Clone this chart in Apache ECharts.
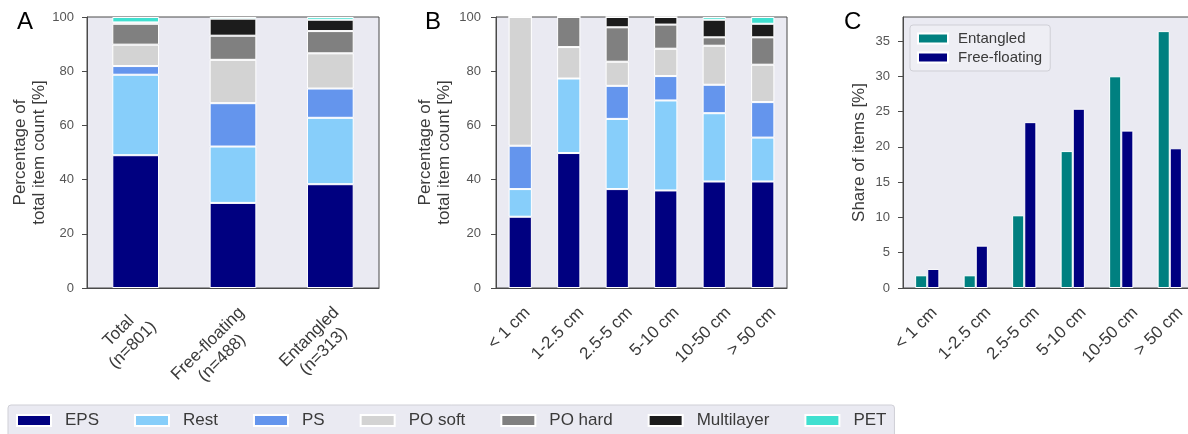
<!DOCTYPE html>
<html>
<head>
<meta charset="utf-8">
<script src="https://cdn.jsdelivr.net/npm/echarts@6/dist/echarts.min.js"></script>
<style>
html,body{margin:0;padding:0;background:#fff;}
#c{width:1188px;height:434px;}
</style>
</head>
<body>
<div id="c"></div>
<script>
// ---------- data ----------
const materials = ['EPS', 'Rest', 'PS', 'PO soft', 'PO hard', 'Multilayer', 'PET'];
const materialColors = ['#000080', '#87CEFA', '#6495ED', '#D3D3D3', '#808080', '#1C1C1C', '#40E0D0'];

const groupCats = ['Total\n(n=801)', 'Free-floating\n(n=488)', 'Entangled\n(n=313)'];
// percentages per material for [Total, Free-floating, Entangled]
const groupEPS        = [49.0, 31.4, 38.3];
const groupRest       = [29.7, 20.8, 24.5];
const groupPS         = [3.2, 16.0, 10.8];
const groupPOsoft     = [7.9, 16.0, 13.0];
const groupPOhard     = [7.7, 8.9, 8.2];
const groupMultilayer = [0.5, 6.3, 4.2];
const groupPET        = [2.0, 0.6, 1.0];

const sizeCats = ['< 1 cm', '1-2.5 cm', '2.5-5 cm', '5-10 cm', '10-50 cm', '> 50 cm'];
const sizeEPS        = [26.3, 49.8, 36.5, 36.0, 39.3, 39.3];
const sizeRest       = [10.2, 27.5, 25.9, 33.2, 25.2, 16.2];
const sizePS         = [16.0, 0.0, 12.2, 9.0, 10.5, 13.1];
const sizePOsoft     = [47.5, 11.6, 8.9, 10.1, 14.4, 13.8];
const sizePOhard     = [0.0, 11.1, 12.7, 8.9, 3.1, 10.1];
const sizeMultilayer = [0.0, 0.0, 3.8, 2.8, 6.5, 5.0];
const sizePET        = [0.0, 0.0, 0.0, 0.0, 1.0, 2.5];

const shareNames = ['Entangled', 'Free-floating'];
const shareColors = ['#008080', '#000080'];
const shareEntangled    = [1.8, 1.8, 10.3, 19.4, 30.0, 36.4];
const shareFreeFloating = [2.7, 6.0, 23.5, 25.4, 22.3, 19.8];

const pctTicks = [0, 20, 40, 60, 80, 100];
const shareTicks = [0, 5, 10, 15, 20, 25, 30, 35];

// ---------- layout helpers ----------
const FONT = "'Liberation Sans', Arial, sans-serif";
const TXT = '#3a3a3a';
const FRAME = '#4a4a4a';
const BG = '#EAEAF2';
const LAB_SIZE = 17, LAB_LH = 20;

const mctx = document.createElement('canvas').getContext('2d');
mctx.font = LAB_SIZE + 'px ' + FONT;
// rotated (45deg) labels, lines centred; rotated box centred at dx(w) from the tick, its top 'top' px below the axis
function rotLabels(labels, dxFn, top) {
  const k = Math.SQRT1_2;
  return labels.map(l => {
    const lines = l.split('\n');
    const w = Math.max.apply(null, lines.map(s => mctx.measureText(s).width));
    const h = lines.length * LAB_LH;
    const ddx = dxFn(w), ddy = top + 0.5 * k * (w + h);
    const a = ddx / k, b = ddy / k;
    const sx = (a - b) / 2, sy = (a + b) / 2;
    const p0 = Math.max(0, sy - h / 2);
    const pad = [p0, sx < 0 ? -2 * sx : 0, 0, sx > 0 ? 2 * sx : 0];
    return { value: l, textStyle: { padding: pad, align: 'center', verticalAlign: 'top' } };
  });
}

function catAxis(gi, cats, dxFn) {
  return {
    type: 'category', gridIndex: gi, data: rotLabels(cats, dxFn, 15),
    axisLine: { show: true, lineStyle: { color: FRAME, width: 1 } },
    axisTick: { show: false },
    axisLabel: { interval: 0, rotate: 45, margin: 0,
      fontSize: LAB_SIZE, lineHeight: LAB_LH, color: TXT, fontFamily: FONT, hideOverlap: false },
    splitLine: { show: false }
  };
}
function valAxis(gi, ticks, max, name, gap, lm) {
  return {
    type: 'value', gridIndex: gi, min: ticks[0], max: max, interval: ticks[1] - ticks[0],
    name: name, nameLocation: 'middle', nameGap: gap, nameMoveOverlap: false,
    nameTextStyle: { fontSize: 17, lineHeight: 19, color: TXT, fontFamily: FONT },
    axisLine: { show: true, lineStyle: { color: FRAME, width: 1 } },
    axisTick: { show: true, length: 5, lineStyle: { color: FRAME, width: 1 } },
    axisLabel: { fontSize: 13, color: '#555', margin: lm, fontFamily: FONT, showMaxLabel: max === ticks[ticks.length - 1] },
    splitLine: { show: false }
  };
}

const groupData = [groupEPS, groupRest, groupPS, groupPOsoft, groupPOhard, groupMultilayer, groupPET];
const sizeData = [sizeEPS, sizeRest, sizePS, sizePOsoft, sizePOhard, sizeMultilayer, sizePET];

const series = [];
materials.forEach((m, i) => {
  series.push({ name: m, type: 'bar', xAxisIndex: 0, yAxisIndex: 0, stack: 'a', barWidth: '48%',
    data: groupData[i], itemStyle: { color: materialColors[i], borderColor: '#fff', borderWidth: 1 } });
});
materials.forEach((m, i) => {
  series.push({ name: m, type: 'bar', xAxisIndex: 1, yAxisIndex: 1, stack: 'b', barWidth: '48%',
    data: sizeData[i], itemStyle: { color: materialColors[i], borderColor: '#fff', borderWidth: 1 } });
});
[shareEntangled, shareFreeFloating].forEach((d, i) => {
  series.push({ name: shareNames[i], type: 'bar', xAxisIndex: 2, yAxisIndex: 2, barWidth: '25%', barGap: '0%',
    data: d, itemStyle: { color: shareColors[i], borderColor: '#fff', borderWidth: 1 } });
});

const gridBase = { show: true, backgroundColor: BG, borderColor: FRAME, borderWidth: 1, top: 17, height: 271,
  containLabel: false, outerBoundsMode: 'none' };

const option = {
  animation: false,
  backgroundColor: '#fff',
  textStyle: { fontFamily: FONT },
  title: [
    { text: 'A', left: 17, top: 10, padding: 0, textStyle: { fontSize: 24, fontWeight: 'normal', color: '#000', fontFamily: FONT } },
    { text: 'B', left: 425, top: 10, padding: 0, textStyle: { fontSize: 24, fontWeight: 'normal', color: '#000', fontFamily: FONT } },
    { text: 'C', left: 844, top: 10, padding: 0, textStyle: { fontSize: 24, fontWeight: 'normal', color: '#000', fontFamily: FONT } }
  ],
  grid: [
    Object.assign({}, gridBase, { left: 87, width: 292 }),
    Object.assign({}, gridBase, { left: 496, width: 291 }),
    Object.assign({}, gridBase, { left: 903, width: 291 })
  ],
  xAxis: [
    catAxis(0, groupCats, w => 3 - 0.22 * w),
    catAxis(1, sizeCats, w => -11),
    catAxis(2, sizeCats, w => -11)
  ],
  yAxis: [
    valAxis(0, pctTicks, 100, 'Percentage of\ntotal item count [%]', 38, 13),
    valAxis(1, pctTicks, 100, 'Percentage of\ntotal item count [%]', 42, 15),
    valAxis(2, shareTicks, 38.4, 'Share of items [%]', 34, 13)
  ],
  legend: [
    { data: materials, left: 8, top: 405, orient: 'horizontal', padding: [7, 8, 8, 8],
      itemWidth: 34, itemHeight: 11, itemGap: 35, icon: 'rect',
      backgroundColor: BG, borderColor: '#cfcfd6', borderWidth: 1, borderRadius: 3,
      textStyle: { fontSize: 17, color: TXT, fontFamily: FONT, padding: [0, 0, 0, 9] } },
    { data: shareNames, left: 910, top: 25, orient: 'vertical', padding: [6, 8, 6, 7],
      itemWidth: 30, itemHeight: 10, itemGap: 4, icon: 'rect',
      backgroundColor: '#EEEEF4', borderColor: '#cfcfd6', borderWidth: 1, borderRadius: 3,
      textStyle: { fontSize: 15, color: TXT, fontFamily: FONT, padding: [0, 0, 0, 5] } }
  ],
  series: series
};

const chart = echarts.init(document.getElementById('c'), null, { renderer: 'canvas' });
chart.setOption(option);
</script>
</body>
</html>
